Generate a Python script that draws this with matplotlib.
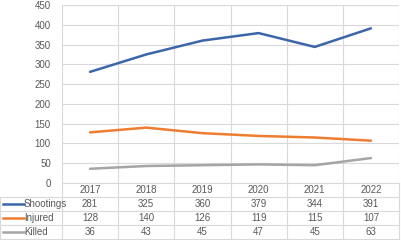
import matplotlib.pyplot as plt
from matplotlib.transforms import blended_transform_factory

years = ['2017', '2018', '2019', '2020', '2021', '2022']
shootings = [281, 325, 360, 379, 344, 391]
injured = [128, 140, 126, 119, 115, 107]
killed = [36, 43, 45, 47, 45, 63]

series = [('Shootings', shootings, '#3d65a9'),
          ('Injured', injured, '#ed7d31'),
          ('Killed', killed, '#a5a5a5')]

plt.rcParams['font.family'] = ['Liberation Sans', 'DejaVu Sans']
W, H = 401, 240
fig = plt.figure(figsize=(W / 100, H / 100), dpi=100)
ax = fig.add_axes([62 / W, 1 - 183 / H, (399 - 62) / W, (183 - 5) / H])

x = list(range(len(years)))
for name, vals, col in series:
    ax.plot(x, vals, color=col, lw=1.8, solid_capstyle='round', zorder=3)

ax.set_xlim(-0.5, len(years) - 0.5)
ax.set_ylim(0, 450)
ax.set_yticks(range(0, 451, 50))
ax.set_xticks([i + 0.5 for i in range(-1, len(years))], minor=False)
ax.tick_params(axis='x', length=0, labelbottom=False)
ax.tick_params(axis='y', length=0, labelsize=7, labelcolor='#595959', pad=8)
ax.grid(True, color='#d9d9d9', lw=0.8)
for s in ax.spines.values():
    s.set_visible(False)

# data table below the axes
grid_col = '#d9d9d9'
txt_col = '#595959'
row_y = [190, 204, 218, 232]
lines_y = [183, 197, 211, 225, 239]
ft = lambda px: 1 - px / H
tr = blended_transform_factory(ax.transData, fig.transFigure)

for ly in lines_y:
    fig.add_artist(plt.Line2D([0 if ly > 190 else 62 / W, 399 / W], [ft(ly), ft(ly)],
                              color=grid_col, lw=0.8))
for b in [i + 0.5 for i in range(-1, len(years))]:
    fig.add_artist(plt.Line2D([b, b], [ft(183), ft(239)], color=grid_col, lw=0.8,
                              transform=tr))
fig.add_artist(plt.Line2D([0, 0], [ft(197), ft(239)], color=grid_col, lw=0.8))

for i, yr in enumerate(years):
    fig.text(i, ft(row_y[0]), yr, transform=tr, ha='center', va='center',
             fontsize=7, color=txt_col)
for r, (name, vals, col) in enumerate(series):
    yy = ft(row_y[r + 1])
    fig.add_artist(plt.Line2D([3 / W, 24 / W], [yy, yy], color=col, lw=1.8))
    fig.text(24 / W, yy, name, ha='left', va='center', fontsize=7, color=txt_col)
    for i, v in enumerate(vals):
        fig.text(i, yy, str(v), transform=tr, ha='center', va='center',
                 fontsize=7, color=txt_col)

fig.savefig('out.png', dpi=100)
